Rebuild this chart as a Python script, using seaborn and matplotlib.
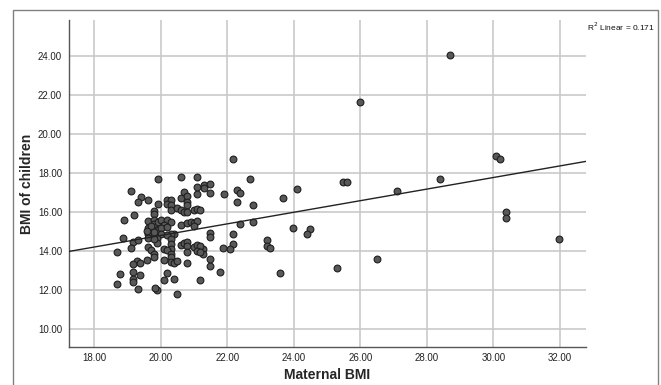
import numpy as np
import pandas as pd
import seaborn as sns
from matplotlib import pyplot as plt
from matplotlib.patches import Rectangle

# values
maternal_bmi = [
    19.11, 19.41, 19.31, 19.61, 19.91, 19.91, 19.81, 19.81, 19.21, 18.91,
    19.61, 19.81, 19.81, 19.61, 19.71, 19.91, 19.91,
    20.60, 21.10, 21.10, 21.30, 21.50, 21.30, 20.70, 21.10, 21.50, 21.90,
    20.20, 20.30, 20.60, 20.80, 20.20, 20.30, 20.80, 20.80, 20.30, 20.50,
    20.60, 20.70, 20.80, 21.00, 21.10, 21.20, 20.00, 20.20, 20.30, 20.10,
    20.00, 20.20, 20.60, 20.80, 20.90, 21.00, 21.10, 21.00, 21.50, 20.40,
    20.30,
    22.19, 22.69, 22.29, 22.39, 22.29, 22.79, 23.69, 24.09, 22.39, 22.79,
    23.99, 22.19, 24.49, 24.39, 21.49, 22.19, 22.09, 21.89, 23.19, 23.19,
    23.29, 21.29, 21.29, 21.49, 21.49, 21.79, 23.59, 21.19,
    20.00, 20.20, 19.90, 19.90, 20.30, 20.30, 20.30, 20.10, 20.20, 20.30,
    20.30, 20.60, 20.70, 20.80, 20.80, 20.80, 21.00, 21.10, 21.20, 21.10,
    21.20, 20.10, 20.30, 20.40, 20.50, 20.80, 20.20, 20.10, 20.40, 19.90,
    19.82, 20.50,
    18.88, 19.18, 19.31, 19.11, 18.68, 19.61, 19.61, 19.81, 19.81, 19.58,
    19.61, 19.71, 19.81, 19.81, 19.28, 19.38, 19.18, 19.58, 18.77, 19.18,
    19.38, 19.18, 19.18, 18.68, 19.31,
    28.70, 25.99, 30.08, 30.19, 25.49, 25.59, 28.40, 27.09, 30.38, 30.38,
    31.98, 26.49, 25.29,
]
child_bmi = [
    17.09, 16.78, 16.53, 16.62, 17.73, 16.45, 16.05, 15.90, 15.85, 15.63,
    15.55, 15.59, 15.42, 15.22, 15.28, 15.50, 15.11,
    17.81, 17.81, 17.30, 17.38, 17.47, 17.27, 17.04, 16.92, 16.99, 16.92,
    16.62, 16.65, 16.75, 16.82, 16.45, 16.36, 16.53, 16.36, 16.10, 16.22,
    16.10, 16.02, 16.02, 16.14, 16.19, 16.14, 15.59, 15.63, 15.50, 15.33,
    15.22, 15.25, 15.33, 15.45, 15.50, 15.45, 15.54, 15.28, 14.96, 14.91,
    14.91,
    18.75, 17.73, 17.13, 17.01, 16.53, 16.36, 16.75, 17.22, 15.42, 15.50,
    15.22, 14.91, 15.16, 14.91, 14.73, 14.39, 14.14, 14.19, 14.60, 14.26,
    14.19, 14.14, 13.88, 13.63, 13.25, 12.94, 12.89, 12.51,
    14.87, 14.82, 14.70, 14.43, 14.65, 14.39, 14.14, 14.14, 14.05, 13.88,
    13.71, 14.31, 14.43, 14.48, 14.26, 13.96, 14.22, 14.31, 14.26, 14.02,
    13.96, 13.57, 13.45, 13.42, 13.50, 13.42, 12.89, 12.51, 12.60, 12.04,
    12.14, 11.79,
    14.70, 14.48, 14.56, 14.19, 13.96, 14.87, 14.70, 14.65, 14.99, 15.03,
    14.22, 14.09, 13.88, 13.71, 13.50, 13.42, 13.33, 13.54, 12.86, 12.94,
    12.81, 12.60, 12.43, 12.31, 12.05,
    24.05, 21.66, 18.87, 18.75, 17.55, 17.55, 17.73, 17.08, 16.02, 15.71,
    14.62, 13.59, 13.14,
]
x_ticks = [18, 20, 22, 24, 26, 28, 30, 32]
y_ticks = [10, 12, 14, 16, 18, 20, 22, 24]
r2_text = "R$^2$ Linear = 0.171"

df = pd.DataFrame({"Maternal BMI": maternal_bmi, "BMI of children": child_bmi})

sns.set_style("white")
plt.rcParams['font.family'] = ['Liberation Sans', 'DejaVu Sans']

fig = plt.figure(figsize=(6.61, 3.85), dpi=100)
ax = fig.add_axes([0.1044, 0.0987, 0.7821, 0.8493])
ax.set_xlim(17.25, 32.78)
ax.set_ylim(9.09, 25.87)

sns.regplot(data=df, x="Maternal BMI", y="BMI of children", ax=ax,
            ci=None, truncate=False,
            scatter_kws=dict(s=24, color="#585858", edgecolor="#1e1e1e",
                             linewidths=0.8, alpha=1, zorder=3),
            line_kws=dict(color="#222222", lw=1.0, zorder=4))

ax.set_xlim(17.25, 32.78)
ax.set_ylim(9.09, 25.87)
ax.set_xticks(x_ticks)
ax.set_yticks(y_ticks)
ax.set_xticklabels([f"{t:.2f}" for t in x_ticks])
ax.set_yticklabels([f"{t:.2f}" for t in y_ticks])
ax.tick_params(axis="x", length=0, labelsize=7, colors="#222222", pad=4)
ax.tick_params(axis="y", length=0, labelsize=7, colors="#222222", pad=5)
ax.grid(True, color="#c9c9c9", lw=1.2)
ax.set_axisbelow(True)

for s in ["top", "right"]:
    ax.spines[s].set_visible(False)
for s in ["left", "bottom"]:
    ax.spines[s].set_color("#555555")
    ax.spines[s].set_linewidth(1.0)

ax.set_xlabel("Maternal BMI", fontsize=10, fontweight="bold", labelpad=4)
ax.set_ylabel("BMI of children", fontsize=10, fontweight="bold", labelpad=3)

fig.text(0.888, 0.93, r2_text, fontsize=6, ha="left", va="center", color="#111111")

# outer frame of the SPSS output
fig.add_artist(Rectangle((13 / 661, -0.05), (658 - 13) / 661, 1.05 - 10 / 385,
                         transform=fig.transFigure, fill=False,
                         edgecolor="#808080", lw=1.0))

fig.savefig("out.png", dpi=100)
